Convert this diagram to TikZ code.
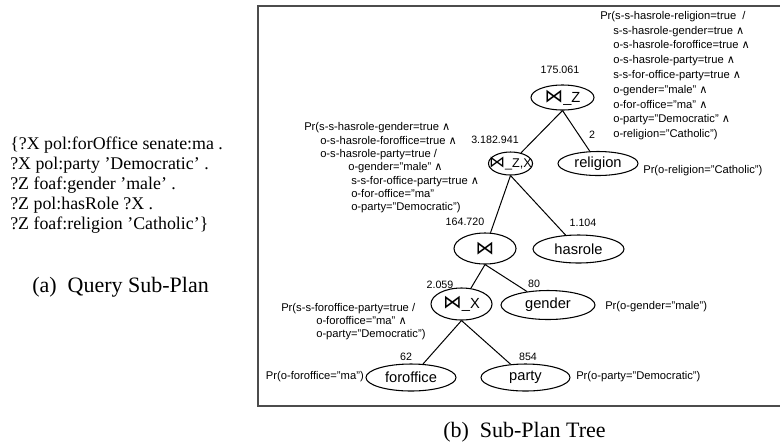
\documentclass[tikz,border=0pt]{standalone}
\usepackage{fontspec}
\setmainfont{Liberation Serif}
\setsansfont{Liberation Sans}
\newfontfamily\symfont{DejaVu Sans}
\usetikzlibrary{shapes.geometric}
\newcommand{\joinsym}[1][14]{{\symfont\fontsize{#1}{#1}\selectfont ⋈}}
\newcommand{\andsym}{{\symfont ∧}}

\begin{document}
\begin{tikzpicture}[x=0.75pt, y=-0.75pt,
  op/.style 2 args={ellipse, draw, line width=0.8pt, inner sep=0pt,
    minimum width=#1*0.75pt, minimum height=#2*0.75pt,
    font=\sffamily\fontsize{11}{13}\selectfont},
  card/.style={font=\sffamily\fontsize{8}{10}\selectfont, inner sep=0pt},
  prob/.style={font=\sffamily\fontsize{8.4}{#1}\selectfont, inner sep=0pt, align=left},
  link/.style={line width=0.75pt}]
  \useasboundingbox (0,0) rectangle (780,444);

  % query sub-plan on the left
  \node[anchor=north west, inner sep=0pt, align=left, font=\fontsize{13.4}{15}\selectfont] (query) at (10,137)
    {\{?X pol:forOffice senate:ma .\\
     ?X pol:party 'Democratic' .\\
     ?Z foaf:gender 'male' .\\
     ?Z pol:hasRole ?X .\\
     ?Z foaf:religion 'Catholic'\}};
  \node[anchor=west, inner sep=0pt, font=\fontsize{16.5}{18}\selectfont] (capa) at (32,287) {(a)\hspace{0.5em}Query Sub-Plan};

  % frame of the tree
  \draw[line width=1.1pt, black!70] (780,6) -- (258,6) -- (258,406) -- (780,406);
  \node[anchor=west, inner sep=0pt, font=\fontsize{16.5}{18}\selectfont] (capb) at (443,432) {(b)\hspace{0.5em}Sub-Plan Tree};

  % operators and leaves
  \node[op={63}{25}] (bz) at (562.5,97.5) {\joinsym\_Z};
  \node[op={44}{23}] (bzx) at (510.5,163.5) {\makebox[0pt]{\fontsize{9.5}{10}\selectfont\joinsym[12]\_Z,X}};
  \node[op={80}{24}] (rel) at (598,163.5) {religion};
  \node[op={62}{31}] (bj) at (485,248.5) {\joinsym};
  \node[op={91}{28}] (hr) at (578.5,249) {hasrole};
  \node[op={61}{32}] (bx) at (461.5,304) {\joinsym\_X};
  \node[op={94}{29}] (gen) at (548,305) {gender};
  \node[op={90}{27}] (fo) at (411,377.5) {foroffice};
  \node[op={89}{27}] (pa) at (525.5,377.5) {party};

  \draw[link] (bz.south) -- (bzx);
  \draw[link] (bz.south) -- (rel);
  \draw[link] (bzx.south) -- (bj);
  \draw[link] (bzx.south) -- (hr);
  \draw[link] (bj.south) -- (bx);
  \draw[link] (bj.south) -- (gen);
  \draw[link] (bx.south) -- (fo);
  \draw[link] (bx.south) -- (pa);

  % cardinalities
  \node[card] (cbz) at (560,70) {175.061};
  \node[card, anchor=east] (cbzx) at (519,140) {3.182.941};
  \node[card] (crel) at (592,135) {2};
  \node[card] (cbj) at (465,222) {164.720};
  \node[card] (chr) at (583,223) {1.104};
  \node[card] (cbx) at (440,285) {2.059};
  \node[card] (cgen) at (534,284) {80};
  \node[card] (cfo) at (406,357) {62};
  \node[card] (cpa) at (528,357) {854};

  % probabilities
  \node[prob=11.1pt, anchor=north west] (pbz) at (600,11)
    {Pr(s-s-hasrole-religion=true~ /\\
     \hspace*{9.75pt}s-s-hasrole-gender=true \andsym\\
     \hspace*{9.75pt}o-s-hasrole-foroffice=true \andsym\\
     \hspace*{9.75pt}o-s-hasrole-party=true \andsym\\
     \hspace*{9.75pt}s-s-for-office-party=true \andsym\\
     \hspace*{9.75pt}o-gender="male" \andsym\\
     \hspace*{9.75pt}o-for-office="ma" \andsym\\
     \hspace*{9.75pt}o-party="Democratic" \andsym\\
     \hspace*{9.75pt}o-religion="Catholic")};
  \node[prob=10pt, anchor=north west] (pbzx) at (304,122.5)
    {Pr(s-s-hasrole-gender=true \andsym\\
     \hspace*{12pt}o-s-hasrole-foroffice=true \andsym\\
     \hspace*{12pt}o-s-hasrole-party=true /\\
     \hspace*{33pt}o-gender="male" \andsym\\
     \hspace*{35.25pt}s-s-for-office-party=true \andsym\\
     \hspace*{35.25pt}o-for-office="ma"\\
     \hspace*{35.25pt}o-party="Democratic")};
  \node[prob=9.75pt, anchor=north west] (pbx) at (281,303)
    {Pr(s-s-foroffice-party=true /\\
     \hspace*{26.25pt}o-foroffice="ma" \andsym\\
     \hspace*{26.25pt}o-party="Democratic")};
  \node[prob=10pt, anchor=west] (prel) at (643,171) {Pr(o-religion="Catholic")};
  \node[prob=10pt, anchor=west] (pgen) at (605,307) {Pr(o-gender="male")};
  \node[prob=10pt, anchor=east] (pfo) at (364,377) {Pr(o-foroffice="ma")};
  \node[prob=10pt, anchor=west] (ppa) at (576,377) {Pr(o-party="Democratic")};
\end{tikzpicture}
\end{document}
